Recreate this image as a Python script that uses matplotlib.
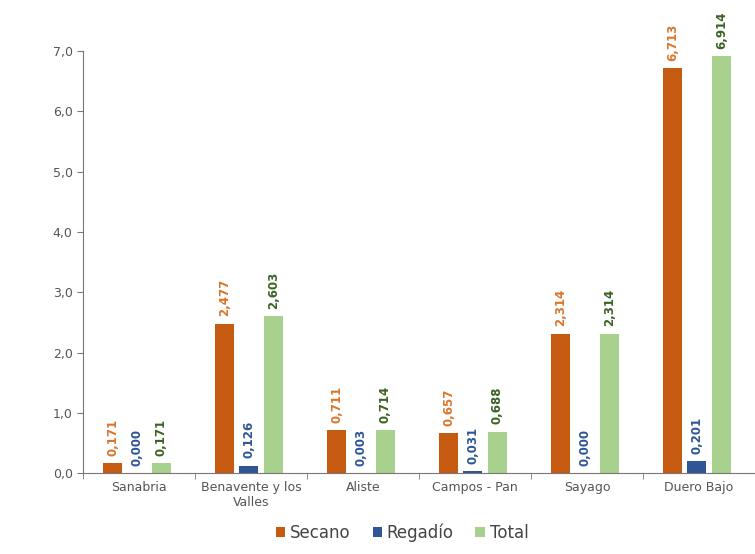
import numpy as np
import matplotlib.pyplot as plt

regions = ["Sanabria", "Benavente y los\nValles", "Aliste", "Campos - Pan", "Sayago", "Duero Bajo"]
secano = [0.171, 2.477, 0.711, 0.657, 2.314, 6.713]
regadio = [0.000, 0.126, 0.003, 0.031, 0.000, 0.201]
total = [0.171, 2.603, 0.714, 0.688, 2.314, 6.914]
yticks = [0, 1, 2, 3, 4, 5, 6, 7]

fig = plt.figure(figsize=(7.55, 5.54), dpi=100)
ax = fig.add_axes([0.110, 0.146, 0.89, 0.762])

x = np.arange(len(regions))
w = 0.17
series = [
    (secano, -0.235, "#C55A11", "#D9762B", "Secano"),
    (regadio, -0.02, "#2F5597", "#2F5597", "Regadío"),
    (total, 0.2, "#A9D18E", "#3B6324", "Total"),
]
for vals, off, col, tcol, name in series:
    ax.bar(x + off, vals, width=w, color=col, label=name)
    for xi, v in zip(x, vals):
        ax.text(xi + off, v + 0.12, f"{v:.3f}".replace(".", ","), rotation=90,
                ha="center", va="bottom", fontsize=8.5, fontweight="bold", color=tcol)

ax.set_xlim(-0.5, len(regions) - 0.5)
ax.set_ylim(0, 7.0)
ax.set_yticks(yticks)
ax.set_yticklabels([f"{t:.1f}".replace(".", ",") for t in yticks], fontsize=9, color="#555555")
ax.set_xticks(x)
ax.set_xticklabels(regions, fontsize=9, color="#555555")
ax.set_xticks(np.arange(-0.5, len(regions) + 0.5, 1), minor=True)
ax.tick_params(axis="x", which="major", length=0, pad=6)
ax.tick_params(axis="x", which="minor", length=4, color="#777777")
ax.tick_params(axis="y", length=4, color="#777777")
for s in ["top", "right"]:
    ax.spines[s].set_visible(False)
ax.spines["left"].set_color("#777777")
ax.spines["bottom"].set_color("#777777")

ax.legend(loc="upper center", bbox_to_anchor=(0.475, -0.084), ncol=3, frameon=False,
          fontsize=12, handlelength=0.55, handleheight=0.55, handletextpad=0.3,
          columnspacing=1.3, labelcolor="#444444")

fig.savefig("out.png", dpi=100)
